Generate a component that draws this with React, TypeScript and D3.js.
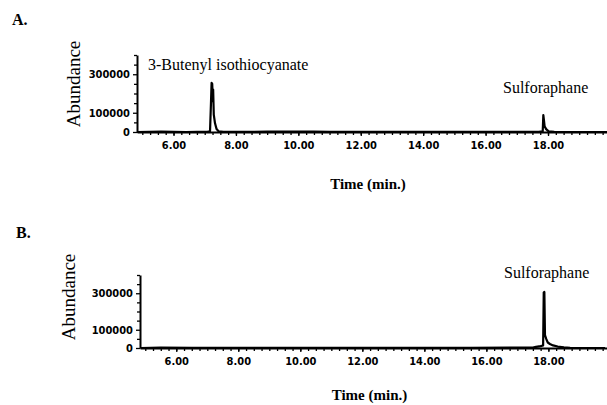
import { useEffect, useRef } from "react"
import * as d3 from "d3"

// chromatogram A: [time (min), abundance]
const traceA: [number, number][] = [
  [4.83, 0], [5.6, 1500], [6.4, 0], [7.1, 2000], [7.17, 4000], [7.2, 150000], [7.22, 255000],
  [7.24, 250000], [7.26, 160000], [7.27, 220000], [7.29, 90000], [7.33, 45000],
  [7.38, 15000], [7.45, 3000], [7.6, 1000], [9.0, 1500], [10.5, 2500], [11.0, 1000],
  [13.0, 500], [15.5, 500], [17.7, 1000], [17.83, 3000], [17.85, 88000], [17.87, 60000],
  [17.89, 30000], [17.94, 15000], [18.02, 3000], [18.2, 500], [19.9, 0],
]

// chromatogram B
const traceB: [number, number][] = [
  [4.85, 0], [5.5, 2000], [6.5, 1000], [7.5, 1500], [9.0, 500], [12.0, 500], [15.5, 1000],
  [17.5, 2000], [17.6, 6000], [17.75, 10000], [17.83, 14000], [17.85, 305000], [17.87, 307000],
  [17.89, 70000], [17.93, 50000], [17.98, 30000], [18.05, 22000], [18.15, 14000],
  [18.3, 8000], [18.5, 4000], [18.7, 1000], [19.83, 0],
]

const xMajor = [6, 8, 10, 12, 14, 16, 18]
const xMinor = d3.range(5, 19.9, 0.25)
const yLabeled = [0, 100000, 300000]
const yMinor = [50000, 150000, 200000, 250000, 350000, 400000]

const panels = [
  {
    letter: "A.", trace: traceA, letterX: 12, letterY: 25,
    x0: 137, x1: 607, yTop: 55, yBase: 132,
    peaks: [
      { text: "3-Butenyl isothiocyanate", x: 148, y: 70 },
      { text: "Sulforaphane", x: 503, y: 93 },
    ],
    ylabX: 80, ylabY: 84, timeY: 189,
  },
  {
    letter: "B.", trace: traceB, letterX: 16, letterY: 238,
    x0: 140, x1: 607, yTop: 275, yBase: 348,
    peaks: [{ text: "Sulforaphane", x: 504, y: 278 }],
    ylabX: 75, ylabY: 297, timeY: 400,
  },
]

export default function App() {
  const svgRef = useRef<SVGSVGElement>(null)

  useEffect(() => {
    if (!svgRef.current) return
    document.body.style.margin = "0"

    const svg = d3.select(svgRef.current)
    svg.selectAll("*").remove()
    svg.append("rect").attr("width", 607).attr("height", 405).attr("fill", "#fff")

    panels.forEach((p) => {
      const x = d3.scaleLinear().domain([4.83, 19.89]).range([p.x0, p.x1])
      const y = d3.scaleLinear().domain([0, 400000]).range([p.yBase, p.yTop])
      const g = svg.append("g")

      svg.append("text")
        .attr("x", p.letterX).attr("y", p.letterY)
        .attr("font-family", "Liberation Serif").attr("font-weight", "bold")
        .attr("font-size", 16).text(p.letter)

      // x axis
      const xa = g.append("g").attr("transform", `translate(0,${p.yBase})`)
        .call(d3.axisBottom(x).tickValues(xMajor).tickFormat(d3.format(".2f")).tickSize(4).tickSizeOuter(0))
      g.append("g").attr("transform", `translate(0,${p.yBase})`)
        .call(d3.axisBottom(x).tickValues(xMinor).tickFormat(() => "").tickSize(3).tickSizeOuter(0))
        .call((s) => s.select(".domain").remove())

      // y axis
      const ya = g.append("g").attr("transform", `translate(${p.x0},0)`)
        .call(d3.axisLeft(y).tickValues(yLabeled).tickFormat(d3.format("d")).tickSize(4).tickSizeOuter(0))
      g.append("g").attr("transform", `translate(${p.x0},0)`)
        .call(d3.axisLeft(y).tickValues(yMinor).tickFormat(() => "").tickSize(3).tickSizeOuter(0))
        .call((s) => s.select(".domain").remove())

      g.selectAll(".domain").attr("stroke", "#000").attr("stroke-width", 2)
      g.selectAll(".tick line").attr("stroke", "#000").attr("stroke-width", 1.3)
      ;[xa, ya].forEach((a) =>
        a.selectAll("text")
          .attr("font-family", "DejaVu Sans Condensed, Liberation Sans, Arial")
          .attr("font-weight", "bold").attr("font-size", 11).attr("fill", "#000"),
      )
      xa.selectAll("text").attr("dy", "0.95em")
      ya.selectAll("text").attr("x", -7)

      // trace
      const line = d3.line<[number, number]>().x((d) => x(d[0])).y((d) => y(d[1]))
      g.append("path").datum(p.trace).attr("d", line)
        .attr("fill", "none").attr("stroke", "#000").attr("stroke-width", 2.2)
        .attr("stroke-linejoin", "round")

      p.peaks.forEach((pk) =>
        svg.append("text").attr("x", pk.x).attr("y", pk.y)
          .attr("font-family", "Liberation Serif").attr("font-size", 16).text(pk.text),
      )

      svg.append("text")
        .attr("transform", `translate(${p.ylabX},${p.ylabY}) rotate(-90)`)
        .attr("text-anchor", "middle")
        .attr("font-family", "Liberation Serif").attr("font-size", 19).text("Abundance")

      svg.append("text")
        .attr("x", (p.x0 + p.x1) / 2 - 4).attr("y", p.timeY).attr("text-anchor", "middle")
        .attr("font-family", "Liberation Serif").attr("font-weight", "bold")
        .attr("font-size", 15).text("Time (min.)")
    })
  }, [])

  return <svg ref={svgRef} width={607} height={405} style={{ display: "block" }} />
}
